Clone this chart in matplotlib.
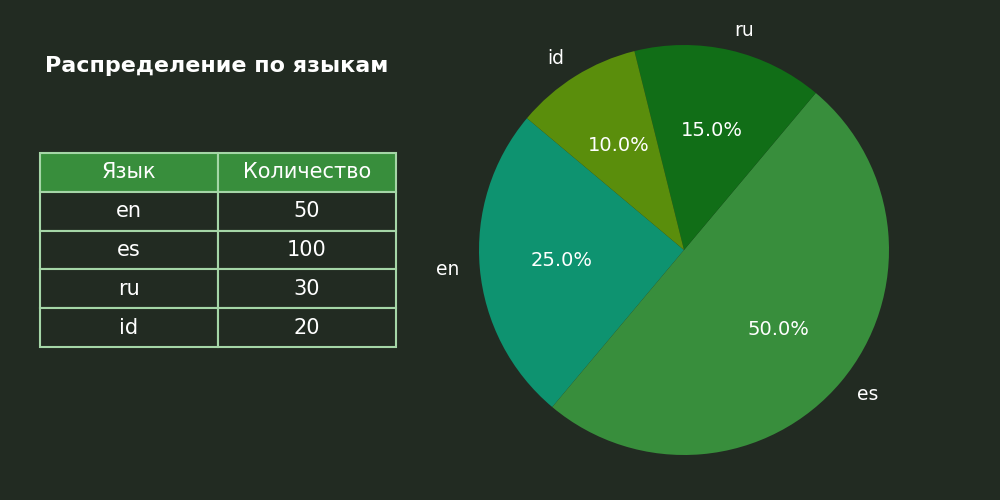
import matplotlib
matplotlib.use("Agg")
import matplotlib.pyplot as plt

# data
languages = ["en", "es", "ru", "id"]
counts = [50, 100, 30, 20]
table_header = ["Язык", "Количество"]

bg = "#222b22"
colors = ["#0e9370", "#388e3c", "#116e17", "#5a8e0c"]
edge = "#a5d6a7"

fig = plt.figure(figsize=(10, 5), dpi=100, facecolor=bg)

fig.text(0.217, 0.868, "Распределение по языкам", color="white",
         fontsize=16, fontweight="bold", ha="center", va="center")

# table on the left
tax = fig.add_axes([0.04, 0.306, 0.356, 0.388])
tax.axis("off")
rows = [[lang, str(c)] for lang, c in zip(languages, counts)]
tbl = tax.table(cellText=rows, colLabels=table_header, cellLoc="center",
                bbox=[0, 0, 1, 1])
tbl.auto_set_font_size(False)
for (r, c), cell in tbl.get_celld().items():
    cell.set_edgecolor(edge)
    cell.set_linewidth(1.5)
    cell.set_facecolor("#388e3c" if r == 0 else bg)
    cell.get_text().set_color("white")
    cell.get_text().set_fontsize(15)

# pie on the right
pax = fig.add_axes([0.479, 0.09, 0.41, 0.82])
wedges, texts, autotexts = pax.pie(counts, labels=languages, colors=colors,
                                   autopct="%1.1f%%", startangle=140,
                                   labeldistance=1.1, pctdistance=0.6,
                                   textprops={"color": "white", "fontsize": 14})
for t in texts:
    t.set_fontsize(13.5)
pax.set_xlim(-1, 1)
pax.set_ylim(-1, 1)
pax.set_aspect("equal")

fig.savefig("out.png", facecolor=bg)
